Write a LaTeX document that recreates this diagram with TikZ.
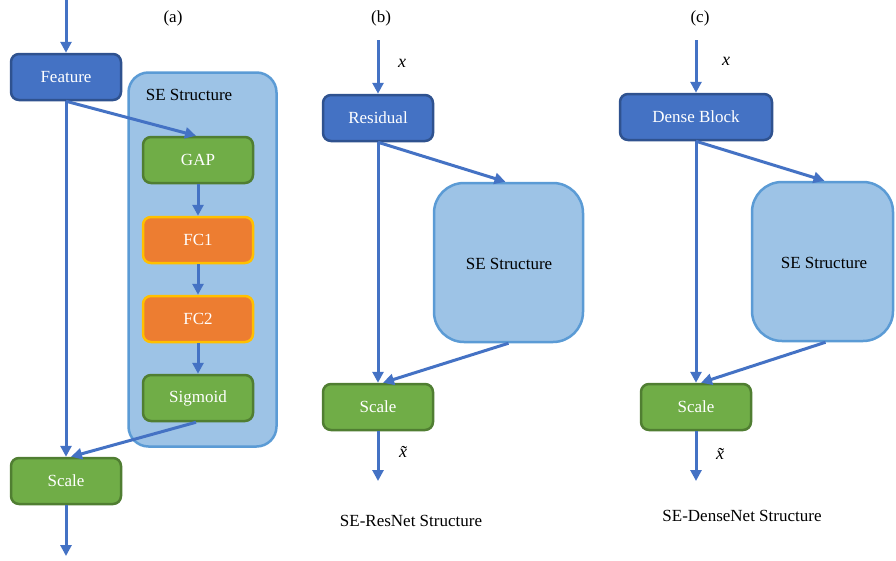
\documentclass[tikz,border=0pt]{standalone}
\usepackage{fontspec}
\setmainfont{Liberation Serif}
\usetikzlibrary{arrows.meta}
\definecolor{dblue}{HTML}{4472C4}
\definecolor{dblueb}{HTML}{2F528F}
\definecolor{cgreen}{HTML}{70AD47}
\definecolor{cgreenb}{HTML}{507E32}
\definecolor{corange}{HTML}{ED7D31}
\definecolor{cyellow}{HTML}{FFC000}
\definecolor{lblue}{HTML}{9DC3E6}
\definecolor{lblueb}{HTML}{5B9BD5}
\begin{document}
\begin{tikzpicture}[x=1pt,y=-1pt,
 box/.style={rounded corners=8pt, line width=2.5pt, minimum width=110pt, minimum height=46pt, text=white, font=\fontsize{17}{20}\selectfont, inner sep=0pt},
 bluebox/.style={box, fill=dblue, draw=dblueb},
 greenbox/.style={box, fill=cgreen, draw=cgreenb},
 orangebox/.style={box, fill=corange, draw=cyellow},
 sebox/.style={fill=lblue, draw=lblueb, line width=2.5pt, inner sep=0pt},
 arr/.style={draw=dblue, line width=3pt, -{Triangle[length=11pt,width=11pt]}},
 lbl/.style={font=\fontsize{17}{20}\selectfont, inner sep=0pt},
 mlbl/.style={font=\fontsize{18}{20}\selectfont\itshape, inner sep=0pt}
]
\useasboundingbox (0,0) rectangle (896,560);
% ---------- panel (a)
\node[sebox, rounded corners=20pt, minimum width=148pt, minimum height=374pt] (se1) at (202.5,259.5) {};
\node[lbl] (sel1) at (189,95) {SE Structure};
\node[lbl] (ta) at (173,18) {(a)};
\node[bluebox] (feat) at (66,77) {Feature};
\node[greenbox] (gap) at (198,160) {GAP};
\node[orangebox] (fc1) at (198,240) {FC1};
\node[orangebox] (fc2) at (198,319) {FC2};
\node[greenbox] (sig) at (198,398) {Sigmoid};
\node[greenbox] (sc1) at (66,481) {Scale};
\coordinate (ina) at (66,0);
\coordinate (outa) at (66,556);
\draw[arr] (ina) -- (feat.north);
\draw[arr] (feat.south) -- ([xshift=-2pt]gap.north);
\draw[arr] (gap.south) -- (fc1.north);
\draw[arr] (fc1.south) -- (fc2.north);
\draw[arr] (fc2.south) -- (sig.north);
\draw[arr] (feat.south) -- (sc1.north);
\draw[arr] ([xshift=-2pt]sig.south) -- ([xshift=5pt]sc1.north);
\draw[arr] (sc1.south) -- (outa);
% ---------- panel (b)
\node[lbl] (tb) at (381,18) {(b)};
\node[sebox, rounded corners=30pt, minimum width=149pt, minimum height=159pt] (se2) at (508.5,262.5) {};
\node[lbl] (sel2) at (509,264) {SE Structure};
\node[bluebox] (res) at (378,118) {Residual};
\node[greenbox] (sc2) at (378,407) {Scale};
\coordinate (inb) at (378,40);
\coordinate (outb) at (378,481);
\draw[arr] (inb) -- (res.north);
\node[mlbl] (xb) at (402,63) {x};
\draw[arr] (res.south) -- ([xshift=-3pt]se2.north);
\draw[arr] (res.south) -- (sc2.north);
\draw[arr] (se2.south) -- ([xshift=5pt]sc2.north);
\draw[arr] (sc2.south) -- (outb);
\node[mlbl] (xtb) at (403,452) {\~{x}};
\node[lbl] (capb) at (411,521) {SE-ResNet Structure};
% ---------- panel (c)
\node[lbl] (tc) at (700,18) {(c)};
\node[sebox, rounded corners=30pt, minimum width=141pt, minimum height=159pt] (se3) at (822.5,261.5) {};
\node[lbl] (sel3) at (824,263) {SE Structure};
\node[bluebox, minimum width=152pt] (den) at (696,117) {Dense Block};
\node[greenbox] (sc3) at (696,407) {Scale};
\coordinate (inc) at (696,40);
\coordinate (outc) at (696,481);
\draw[arr] (inc) -- (den.north);
\node[mlbl] (xc) at (726,61) {x};
\draw[arr] (den.south) -- ([xshift=2pt]se3.north);
\draw[arr] (den.south) -- (sc3.north);
\draw[arr] ([xshift=3pt]se3.south) -- ([xshift=5pt]sc3.north);
\draw[arr] (sc3.south) -- (outc);
\node[mlbl] (xtc) at (720,454) {\~{x}};
\node[lbl] (capc) at (742,516) {SE-DenseNet Structure};
\end{tikzpicture}
\end{document}
